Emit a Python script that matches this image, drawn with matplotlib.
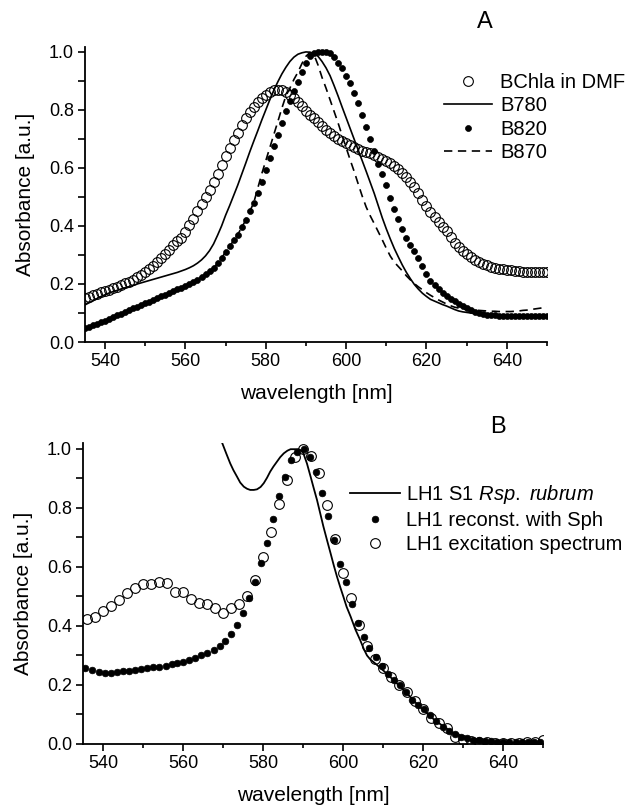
import matplotlib
matplotlib.use('Agg')
import matplotlib.pyplot as plt
from matplotlib.ticker import MultipleLocator, FormatStrFormatter

plt.rcParams['font.family'] = ['Liberation Sans', 'DejaVu Sans']
plt.rcParams['mathtext.fontset'] = 'custom'
plt.rcParams['mathtext.it'] = 'Liberation Sans:italic'
plt.rcParams['mathtext.rm'] = 'Liberation Sans'
plt.rcParams['lines.scale_dashes'] = False

# ---------------- Panel A data (1 nm grid) ----------------
WL_A = list(range(535, 651))

BCHLA_DMF = [
    .150, .156, .162, .167, .172, .176, .180, .185, .190, .196,
    .202, .208, .215, .223, .232, .242, .252, .263, .275, .288,
    .302, .318, .334, .347, .360, .380, .402, .425, .450, .475,
    .500, .525, .552, .580, .610, .640, .668, .695, .722, .748,
    .772, .792, .810, .826, .840, .852, .862, .868, .870, .868,
    .862, .852, .840, .826, .812, .798, .784, .772, .758, .745,
    .732, .720, .710, .700, .692, .685, .678, .672, .666, .660,
    .655, .650, .644, .637, .632, .625, .617, .607, .596, .583,
    .568, .552, .534, .513, .490, .468, .448, .430, .413, .397,
    .381, .361, .343, .327, .313, .302, .293, .284, .276, .270,
    .265, .260, .256, .253, .250, .248, .247, .245, .244, .243,
    .243, .242, .242, .241, .241, .241]

B780 = [
    .128, .135, .142, .150, .157, .163, .169, .174, .178, .183,
    .187, .191, .195, .200, .204, .208, .212, .216, .220, .224,
    .228, .232, .236, .240, .245, .250, .256, .263, .272, .283,
    .297, .315, .338, .368, .400, .437, .470, .505, .540, .578,
    .616, .655, .692, .728, .765, .800, .835, .868, .897, .924,
    .947, .967, .982, .992, .997, 1.000, .999, .994, .985, .967,
    .945, .918, .884, .848, .810, .773, .736, .699, .662, .625,
    .588, .550, .512, .470, .428, .390, .355, .322, .293, .265,
    .240, .218, .198, .182, .168, .157, .147, .141, .135, .129,
    .124, .118, .112, .107, .104, .102, .100, .098, .097, .096,
    .095, .094, .093, .093, .092, .092, .092, .092, .092, .092,
    .092, .092, .092, .092, .092, .092]

B820 = [
    .047, .052, .057, .062, .068, .074, .080, .086, .092, .098,
    .104, .110, .116, .121, .127, .133, .139, .145, .151, .157,
    .163, .170, .176, .181, .186, .192, .199, .206, .215, .225,
    .234, .244, .256, .271, .290, .310, .330, .350, .370, .395,
    .420, .450, .480, .515, .552, .592, .635, .675, .715, .755,
    .795, .830, .865, .898, .932, .962, .985, .997, 1.000, 1.000,
    1.000, .995, .982, .963, .944, .918, .892, .860, .823, .783,
    .740, .700, .657, .615, .578, .540, .497, .458, .425, .390,
    .360, .336, .313, .290, .262, .234, .212, .196, .182, .168,
    .157, .148, .140, .130, .123, .117, .111, .105, .100, .097,
    .094, .093, .092, .091, .090, .090, .090, .090, .090, .090,
    .090, .090, .090, .090, .090, .090]

B870 = [
    .047, .052, .057, .062, .068, .074, .080, .086, .092, .098,
    .104, .110, .116, .121, .127, .133, .139, .145, .151, .157,
    .163, .170, .176, .181, .186, .192, .199, .206, .215, .225,
    .234, .244, .256, .271, .290, .310, .330, .350, .370, .395,
    .420, .450, .480, .530, .580, .625, .670, .715, .760, .806,
    .848, .875, .905, .930, .960, .985, .998, .990, .955, .912,
    .875, .835, .795, .755, .712, .670, .628, .588, .545, .503,
    .465, .435, .408, .380, .352, .323, .296, .275, .260, .245,
    .228, .214, .201, .190, .180, .170, .161, .153, .145, .138,
    .131, .125, .120, .117, .114, .112, .111, .110, .109, .108,
    .107, .106, .106, .105, .105, .105, .105, .106, .107, .109,
    .110, .112, .114, .116, .118, .120]

LEGEND_A = ['BChla in DMF', 'B780', 'B820', 'B870']

# ---------------- Panel B data ----------------
WL_S1 = [569.4, 569.8, 570.8, 571.8, 572.6, 573.5, 574.3, 575.2, 576.0, 576.8,
         577.7, 578.5, 579.4, 580.2, 581.0, 581.8, 582.6, 583.5, 584.3, 585.2,
         586.1, 586.9, 588.9, 589.5, 590.1, 591.0, 591.9, 592.7, 593.5, 594.3,
         595.1, 596.0, 596.9, 597.7, 598.5, 599.3, 600.1, 600.9, 601.9, 602.5,
         603.1, 604.3, 605.2, 606.0, 606.8, 608.5, 610.5, 612.6, 614.7, 616.8,
         618.8, 621.0, 623.0, 625.2, 627.2, 629.3, 631.0, 632.7, 634.7, 641.8,
         650.0]
LH1_S1 = [1.040, 1.020, .985, .951, .928, .906, .886, .872, .865, .861,
          .861, .863, .871, .884, .902, .923, .940, .957, .972, .985,
          .994, .999, .999, .995, .985, .950, .906, .866, .827, .782,
          .737, .691, .646, .605, .567, .532, .499, .465, .432, .410,
          .388, .352, .322, .300, .287, .268, .244, .217, .189, .160,
          .131, .104, .080, .059, .040, .025, .015, .008, .005, .004,
          .004]

WL_SPH = [535.6, 537.2, 538.9, 540.4, 542.0, 543.5, 545.0, 546.5, 548.0, 549.6,
          551.1, 552.6, 554.1, 555.7, 557.2, 558.6, 560.1, 561.6, 563.1, 564.6,
          566.1, 567.7, 569.2, 570.6, 572.1, 573.6, 575.1, 576.6, 578.0, 579.6,
          581.1, 582.5, 584.0, 585.6, 587.1, 588.6, 590.2, 591.7, 593.2, 594.7,
          596.2, 597.7, 599.2, 600.7, 602.3, 603.7, 605.2, 606.6, 608.2, 609.7,
          611.2, 612.7, 614.3, 615.7, 617.2, 618.7, 620.3, 621.8, 623.3, 624.9,
          626.4, 627.9, 629.4, 631.0, 632.5, 634.0, 635.5, 637.1, 638.6, 640.1,
          641.6, 643.2, 644.7, 646.2, 647.7, 649.3]
LH1_SPH = [.257, .250, .245, .242, .242, .244, .247, .249, .251, .253,
           .257, .260, .262, .265, .270, .274, .279, .285, .291, .300,
           .310, .320, .333, .350, .372, .403, .443, .494, .550, .612,
           .682, .763, .841, .906, .963, .991, 1.000, .972, .923, .850,
           .773, .692, .610, .550, .475, .409, .362, .326, .296, .266,
           .238, .216, .200, .176, .150, .133, .120, .098, .077, .058,
           .044, .034, .025, .019, .015, .012, .010, .009, .008, .008,
           .008, .008, .008, .008, .008, .008]

WL_EXC = [536, 538, 540, 542, 544, 546, 548, 550, 552, 554,
          556, 558, 560, 562, 564, 566, 568, 570, 572, 574,
          576, 578, 580, 582, 584, 586, 588, 590, 592, 594,
          596, 598, 600, 602, 604, 606, 608, 610, 612, 614,
          616, 618, 620, 622, 624, 626, 628, 630, 632, 634,
          636, 638, 640, 642, 644, 646, 648, 650]
LH1_EXC = [.423, .432, .452, .469, .488, .511, .528, .541, .541, .550,
           .547, .516, .516, .492, .479, .475, .460, .445, .460, .475,
           .502, .556, .634, .719, .814, .896, .972, 1.000, .976, .917,
           .809, .695, .581, .494, .403, .333, .288, .257, .228, .200,
           .175, .146, .118, .087, .070, .053, .025, .014, .011, .008,
           .006, .005, .005, .005, .005, .006, .008, .015]

LEGEND_B = ['LH1 S1 $\\it{Rsp.\\ rubrum}$', 'LH1 reconst. with Sph',
            'LH1 excitation spectrum']

# ---------------- Figure ----------------
W, H = 637, 810
fig = plt.figure(figsize=(W / 100, H / 100), dpi=100)
axA = fig.add_axes([85 / W, 1 - 342 / H, 462 / W, 295.3 / H])
axB = fig.add_axes([83 / W, 1 - 744 / H, 460 / W, 301 / H])


def style(ax, ytop):
    ax.set_xlim(535, 650)
    ax.set_ylim(0, ytop)
    for s in ['top', 'right']:
        ax.spines[s].set_visible(False)
    for s in ['left', 'bottom']:
        ax.spines[s].set_linewidth(1.3)
    ax.xaxis.set_major_locator(MultipleLocator(20))
    ax.xaxis.set_minor_locator(MultipleLocator(10))
    ax.yaxis.set_major_locator(MultipleLocator(0.2))
    ax.yaxis.set_minor_locator(MultipleLocator(0.1))
    ax.yaxis.set_major_formatter(FormatStrFormatter('%.1f'))
    ax.tick_params(which='major', direction='out', length=5, width=1.2,
                   labelsize=13, pad=3)
    ax.tick_params(axis='x', which='minor', direction='out', length=3, width=1.2)
    ax.tick_params(axis='y', which='minor', direction='out', length=5, width=1.2)
    ax.set_xlabel('wavelength [nm]', fontsize=15, labelpad=10)
    ax.set_ylabel('Absorbance [a.u.]', fontsize=15, labelpad=10)


style(axA, 1.018)
style(axB, 1.02)

hA0, = axA.plot(WL_A, BCHLA_DMF, linestyle='none', marker='o', markersize=7,
                mfc='none', mec='black', mew=0.8, zorder=2)
hA1, = axA.plot(WL_A, B780, color='black', lw=1.2, zorder=3)
hA3, = axA.plot(WL_A, B870, color='black', lw=1.2, dashes=(6, 4), zorder=3)
hA2, = axA.plot(WL_A, B820, linestyle='none', marker='o', markersize=4.3,
                mfc='black', mec='black', mew=0.5, zorder=4)
axA.legend([hA0, hA1, hA2, hA3], LEGEND_A, loc='upper left',
           bbox_to_anchor=(444 / W, 1 - 73 / H), bbox_transform=fig.transFigure,
           frameon=False, fontsize=14.5, handlelength=2.4, handletextpad=0.4,
           labelspacing=0.22, borderpad=0, borderaxespad=0)

hB0, = axB.plot(WL_S1, LH1_S1, color='black', lw=1.3, zorder=2)
hB1, = axB.plot(WL_SPH, LH1_SPH, linestyle='none', marker='o', markersize=4.8,
                mfc='black', mec='black', mew=0.5, zorder=3)
hB2, = axB.plot(WL_EXC, LH1_EXC, linestyle='none', marker='o', markersize=7,
                mfc='none', mec='black', mew=0.8, zorder=4)
axB.legend([hB0, hB1, hB2], LEGEND_B, loc='upper left',
           bbox_to_anchor=(350 / W, 1 - 483 / H), bbox_transform=fig.transFigure,
           frameon=False, fontsize=14.5, handlelength=2.5, handletextpad=0.3,
           labelspacing=0.25, borderpad=0, borderaxespad=0)

fig.text(485 / W, 1 - 22 / H, 'A', fontsize=17, ha='center', va='center')
fig.text(498 / W, 1 - 427 / H, 'B', fontsize=17, ha='center', va='center')

fig.savefig('out.png', dpi=100)
